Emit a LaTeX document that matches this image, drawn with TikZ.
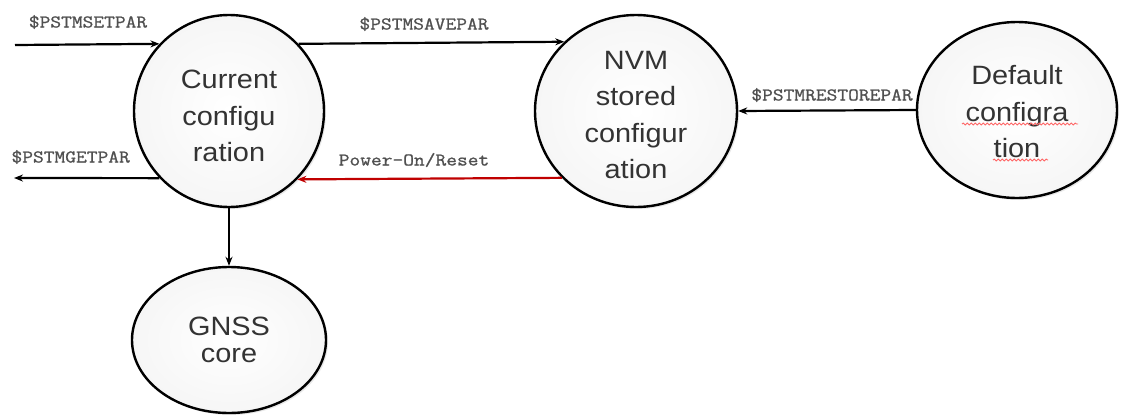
\documentclass[tikz,border=0pt]{standalone}
\usepackage{fontspec}
\usetikzlibrary{arrows.meta,shadows,shapes.geometric,decorations.pathmorphing}
\newfontfamily\statefont[FakeStretch=1.09]{Liberation Sans}
\newfontfamily\cmdfont[FakeStretch=1.16,FakeBold=1]{Latin Modern Mono}
\definecolor{txtgray}{HTML}{333333}
\definecolor{cmdgray}{HTML}{505050}
\definecolor{resetred}{HTML}{C00000}
% extra room above the first line of a state label
\newcommand\firstgap{\rule{0pt}{29pt}}
\begin{document}
\begin{tikzpicture}[x=1pt,y=-1pt,
  state/.style={ellipse, draw=black, line width=2.4pt, inner color=white, outer color=gray!7,
    drop shadow={opacity=0.18, shadow xshift=2pt, shadow yshift=-2pt},
    align=center, text=txtgray, font=\statefont\fontsize{26.5}{36.5}\selectfont, inner sep=0pt},
  flow/.style={line width=2.2pt, -{Stealth[length=9pt,width=7pt]}},
  cmd/.style={text=cmdgray, font=\cmdfont\fontsize{18}{20}\selectfont, inner sep=0pt},
  squiggle/.style={red!60, line width=0.9pt, decorate, decoration={snake, amplitude=0.9pt, segment length=4pt}}
]
\useasboundingbox (0,0) rectangle (1122,418);
\fill[white] (0,0) rectangle (1122,418);

% states
\node[state, minimum width=190pt, minimum height=192pt] (cur) at (229,111) {\firstgap Current\\configu\\ration};
\node[state, minimum width=202pt, minimum height=192pt] (nvm) at (636,111) {\rule{0pt}{26pt}NVM\\stored\\configur\\ation};
\node[state, minimum width=200pt, minimum height=176pt] (def) at (1017,110) {\rule{0pt}{23pt}Default\\configra\\tion};
\node[state, minimum width=194pt, minimum height=146pt,
      font=\statefont\fontsize{26.5}{27}\selectfont] (gnss) at (229,340) {GNSS\\core};

% spell-check marks under the default label
\draw[squiggle] (962,124) -- (1078,124);
\draw[squiggle] (993,160) -- (1048,160);

% free ends of the external commands
\coordinate (setin) at (15,45);
\coordinate (getout) at (14,178);

% connectors
\draw[flow] (setin) -- (cur.136.3);
\draw[flow] (cur.44.6) -- (nvm.136.4);
\draw[flow] (def.west) -- (nvm.east);
\draw[flow, draw=resetred, -{Stealth[length=9pt,width=7pt,fill=resetred]}] (nvm.222.8) -- (cur.315.4);
\draw[flow] (cur.224.6) -- (getout);
\draw[flow] (cur.south) -- (gnss.north);

% labels
\node[cmd] (lset) at (88,22) {\$PSTMSETPAR};
\node[cmd] (lsave) at (424,24) {\$PSTMSAVEPAR};
\node[cmd] (lrest) at (832,95) {\$PSTMRESTOREPAR};
\node[cmd] (lreset) at (414,160) {Power-On/Reset};
\node[cmd, anchor=east] (lget) at (130,157) {\$PSTMGETPAR};
\end{tikzpicture}
\end{document}
